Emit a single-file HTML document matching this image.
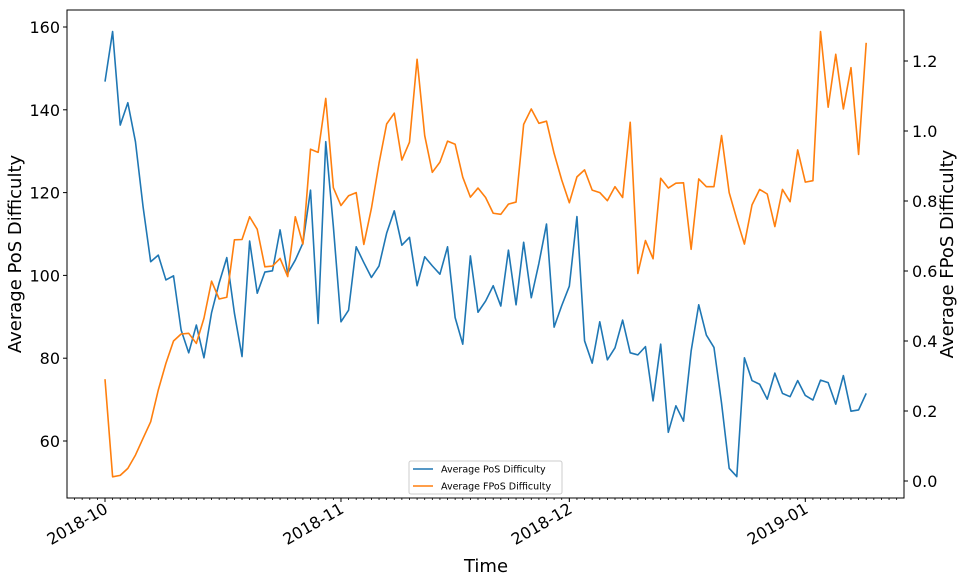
<!DOCTYPE html>
<html><head><meta charset="utf-8"><style>
body{margin:0;background:#fff;}
svg{display:block;font-family:"DejaVu Sans","Liberation Sans",sans-serif;}
</style></head><body>
<svg id="chart" width="965" height="582" viewBox="0 0 965 582" xmlns="http://www.w3.org/2000/svg">
<g id="plot"></g>
</svg>
<script>
const startDate = "2018-10-01";
const posValues = [146.8,158.9,136.3,141.7,132.3,116.6,103.3,104.9,98.9,99.9,86.8,81.3,88,80.1,91,98.2,104.3,90.9,80.4,108.3,95.7,100.8,101.1,111,100.5,103.7,107.8,120.6,88.4,132.3,111.8,88.8,91.6,106.9,103.1,99.5,102.3,110.2,115.6,107.3,109.2,97.5,104.5,102.3,100.3,106.9,89.8,83.4,104.7,91.1,93.8,97.5,92.6,106.1,92.9,108,94.6,102.9,112.4,87.5,92.7,97.4,114.2,84.2,78.8,88.8,79.6,82.5,89.2,81.3,80.8,82.8,69.7,83.4,62.1,68.5,64.8,81.7,92.9,85.6,82.6,69.1,53.4,51.4,80.1,74.6,73.7,70.1,76.4,71.5,70.7,74.6,71,69.9,74.7,74.1,68.9,75.8,67.2,67.5,71.5];
const fposValues = [0.291,0.012,0.016,0.036,0.074,0.122,0.169,0.26,0.336,0.4,0.42,0.422,0.393,0.465,0.571,0.52,0.525,0.689,0.69,0.755,0.719,0.612,0.614,0.636,0.584,0.755,0.677,0.948,0.939,1.093,0.838,0.787,0.815,0.824,0.676,0.779,0.908,1.02,1.051,0.917,0.968,1.205,0.987,0.882,0.911,0.971,0.962,0.868,0.811,0.837,0.81,0.765,0.762,0.791,0.797,1.019,1.063,1.022,1.028,0.936,0.86,0.795,0.869,0.889,0.831,0.824,0.801,0.841,0.81,1.025,0.593,0.687,0.635,0.865,0.837,0.851,0.852,0.662,0.863,0.841,0.841,0.987,0.824,0.748,0.677,0.789,0.833,0.82,0.727,0.833,0.798,0.946,0.854,0.858,1.284,1.068,1.219,1.063,1.181,0.933,1.252];
const leftTicks = [60,80,100,120,140,160];
const rightTicks = [0.0,0.2,0.4,0.6,0.8,1.0,1.2];
const monthLabels = ["2018-10","2018-11","2018-12","2019-01"];
const monthOffsets = [0,31,61,92];

const svg = document.getElementById('chart');
const NS = "http://www.w3.org/2000/svg";
const L=67,R=904,T=10,B=498;
const xScale = d => 105 + d*7.612;
const yLeft = v => 27 + (160 - v)*4.14;
const yRight = v => 481 - v*350;
function mk(tag, attrs, parent){const e=document.createElementNS(NS,tag);for(const k in attrs)e.setAttribute(k,attrs[k]);(parent||svg).appendChild(e);return e;}

// series
function line(vals, yf, color, name){
  const d = vals.map((v,i)=>(i?'L':'M')+xScale(i).toFixed(2)+','+yf(v).toFixed(2)).join(' ');
  const p = mk('path',{d:d,fill:'none',stroke:color,'stroke-width':1.6,'stroke-linejoin':'round'});
  
  
}
line(posValues, yLeft, '#1f77b4', 'pos-difficulty-line');
line(fposValues, yRight, '#ff7f0e', 'fpos-difficulty-line');

// frame
const frame = mk('rect',{x:L,y:T,width:R-L,height:B-T,fill:'none',stroke:'#000','stroke-width':1});



// left ticks
leftTicks.forEach(v=>{
  const y=yLeft(v);
  mk('line',{x1:L-4,x2:L,y1:y,y2:y,stroke:'#000'});
  const t=mk('text',{x:L-7,y:y+6,'text-anchor':'end','font-size':16,fill:'#000'});
  t.textContent=v;
  
  
});
// right ticks
rightTicks.forEach(v=>{
  const y=yRight(v);
  mk('line',{x1:R,x2:R+4,y1:y,y2:y,stroke:'#000'});
  const t=mk('text',{x:R+8,y:y+6,'text-anchor':'start','font-size':16,fill:'#000'});
  t.textContent=v.toFixed(1);
  
  
});
// minor x ticks (daily)
for(let d=-4; xScale(d)<R; d++){
  const x=xScale(d); if(x<=L) continue;
  mk('line',{x1:x,x2:x,y1:B,y2:B+2,stroke:'#000','stroke-width':0.8});
}
// major x ticks
monthLabels.forEach((lab,i)=>{
  const x=xScale(monthOffsets[i]);
  mk('line',{x1:x,x2:x,y1:B,y2:B+4,stroke:'#000'});
  const t=mk('text',{x:x+4,y:B+14,'text-anchor':'end','font-size':16,fill:'#000',transform:`rotate(-30 ${x+4} ${B+14})`});
  t.textContent=lab;
  
  
});
</script>
<svg style="position:absolute;left:0;top:0" width="965" height="582" xmlns="http://www.w3.org/2000/svg" font-family="DejaVu Sans, Liberation Sans, sans-serif">
<text x="486" y="572" text-anchor="middle" font-size="18">Time</text>
<text transform="translate(21 254) rotate(-90)" text-anchor="middle" font-size="18">Average PoS Difficulty</text>
<text transform="translate(953 254) rotate(-90)" text-anchor="middle" font-size="18">Average FPoS Difficulty</text>
<g>
<rect x="409" y="461" width="153" height="33" rx="2" fill="#fff" fill-opacity="0.8" stroke="#ccc"/>
<line x1="413" x2="433" y1="469" y2="469" stroke="#1f77b4" stroke-width="1.6"/>
<text x="441" y="472.5" font-size="9.5">Average PoS Difficulty</text>
<line x1="413" x2="433" y1="486" y2="486" stroke="#ff7f0e" stroke-width="1.6"/>
<text x="441" y="489.5" font-size="9.5">Average FPoS Difficulty</text>
</g>
</svg>
</body></html>
